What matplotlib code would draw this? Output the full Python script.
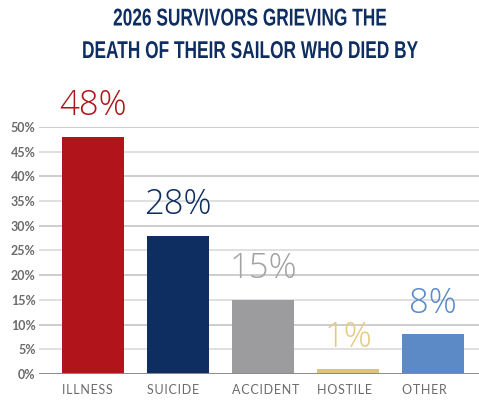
import matplotlib.pyplot as plt
from matplotlib import patheffects
from matplotlib.transforms import Affine2D, blended_transform_factory

categories = ["ILLNESS", "SUICIDE", "ACCIDENT", "HOSTILE", "OTHER"]
values = [48, 28, 15, 1, 8]
bar_colors = ["#B1141A", "#0E2D61", "#9C9C9E", "#DDC477", "#5B8AC6"]
label_colors = ["#B1141A", "#0E2D61", "#A3A3A3", "#E3CB7E", "#5B8AC6"]
yticks = list(range(0, 55, 5))
title = "2026 SURVIVORS GRIEVING THE\nDEATH OF THEIR SAILOR WHO DIED BY"
BAR_W = 0.73


class Stretch(patheffects.AbstractPathEffect):
    # rescales the glyphs around a fixed anchor (display px) -> tall, narrow title
    def __init__(self, sx, sy, cx, cy):
        super().__init__()
        self.tr = Affine2D().translate(-cx, -cy).scale(sx, sy).translate(cx, cy)

    def draw_path(self, renderer, gc, tpath, affine, rgbFace=None):
        renderer.draw_path(gc, tpath, affine + self.tr, rgbFace)


fig = plt.figure(figsize=(4.79, 4.0), dpi=100)
ax = fig.add_axes([39 / 479, 26 / 400, 440 / 479, 247 / 400])

x = list(range(len(categories)))
ax.bar(x, values, width=BAR_W, color=bar_colors, zorder=3)

# gridlines, alternating shade
for v in yticks[1:]:
    c = "#cdcdcd" if v % 10 == 0 else "#e0e0e0"
    ax.axhline(v, color=c, lw=1.4, zorder=1)
ax.axhline(0, color="#8a8a8a", lw=1.4, zorder=4)

for xi, v, c in zip(x, values, label_colors):
    ax.annotate(f"{v}%", (xi, v), xytext=(0, 10), textcoords="offset points",
                ha="center", va="bottom", fontsize=25, color=c,
                family="Open Sans", fontweight="light", annotation_clip=False)

ax.set_xlim(-0.635, 4.54)
ax.set_ylim(0, 50)
ax.set_yticks(yticks)
ax.set_yticklabels([f"{v}%" for v in yticks], fontsize=9, color="#6b6b6b",
                   family="Lato", fontweight="bold")
ax.set_xticks([])
ax.tick_params(length=0, axis="y", pad=2.5)
for s in ax.spines.values():
    s.set_visible(False)

# category labels sit flush with the left edge of each bar
trans = blended_transform_factory(ax.transData, ax.transAxes)
for xi, name in zip(x, categories):
    ax.text(xi - BAR_W / 2, -0.04, "\u200a".join(name), transform=trans,
            ha="left", va="top", fontsize=9, color="#6b6b6b",
            family=["Lato", "DejaVu Sans"])

cx, top = 250 / 479, 0.98
base_fs, target_fs = 13, 17.5
t = fig.text(cx, top, title, ha="center", va="top", fontsize=base_fs,
             color="#0E2D61", fontweight="bold", family="Liberation Sans",
             linespacing=1.55)
fig.canvas.draw()
full_w = t.get_window_extent().width
t.set_path_effects([Stretch(336 / full_w, target_fs / base_fs,
                            cx * fig.bbox.width, top * fig.bbox.height)])

fig.savefig("out.png", dpi=100)
